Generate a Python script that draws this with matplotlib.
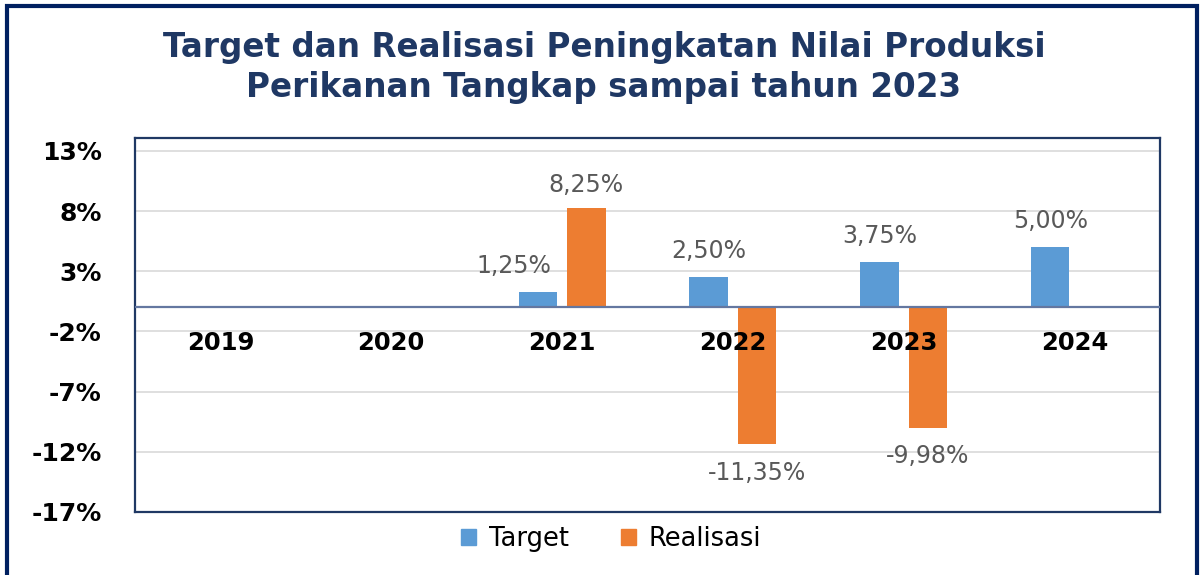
import matplotlib
matplotlib.use("Agg")
import matplotlib.pyplot as plt
from matplotlib.patches import Rectangle
import numpy as np

plt.rcParams['font.family'] = ['DejaVu Sans']

# data
years = ["2019", "2020", "2021", "2022", "2023", "2024"]
target = [None, None, 1.25, 2.50, 3.75, 5.00]
realisasi = [None, None, 8.25, -11.35, -9.98, None]
yticks = [13, 8, 3, -2, -7, -12, -17]

blue = "#5b9bd5"
orange = "#ed7d31"
navy = "#1f3864"

fig = plt.figure(figsize=(12.03, 5.75), dpi=100)
ax = fig.add_axes([0.1122, 0.1096, 0.852, 0.6504])

x = np.arange(len(years))
w = 0.225
off = 0.142

def fmt(v):
    return f"{v:.2f}".replace(".", ",") + "%"

for i, v in enumerate(target):
    if v is None:
        continue
    ax.bar(x[i] - off, v, w, color=blue, zorder=3)
    dx = -0.14 if i == 2 else 0.0   # 1,25% label sits left in the original
    ax.annotate(fmt(v), (x[i] - off + dx, v), xytext=(0, 10), textcoords="offset points",
                ha="center", va="bottom", fontsize=17, color="#595959")

for i, v in enumerate(realisasi):
    if v is None:
        continue
    ax.bar(x[i] + off, v, w, color=orange, zorder=3)
    if v >= 0:
        ax.annotate(fmt(v), (x[i] + off, v), xytext=(0, 8), textcoords="offset points",
                    ha="center", va="bottom", fontsize=17, color="#595959")
    else:
        ax.annotate(fmt(v), (x[i] + off, v), xytext=(0, -12), textcoords="offset points",
                    ha="center", va="top", fontsize=17, color="#595959")

# year labels just below zero line
for i, yr in enumerate(years):
    ax.text(x[i], -2.0, yr, ha="center", va="top", fontsize=17.5, fontweight="bold", color="black")

ax.axhline(0, color="#6477a0", lw=1.6, zorder=4)
ax.set_xlim(-0.5, len(years) - 0.5)
ax.set_ylim(-17, 14.08)
ax.set_yticks(yticks)
ax.set_yticklabels([f"{t}%" for t in yticks], fontsize=18, fontweight="bold")
ax.set_xticks([])
ax.tick_params(axis="y", length=0, pad=24)
ax.grid(axis="y", color="#d9d9d9", lw=1.2, zorder=0)
for s in ax.spines.values():
    s.set_color(navy)
    s.set_linewidth(1.6)

fig.text(0.502, 0.918, "Target dan Realisasi Peningkatan Nilai Produksi",
         ha="center", va="center", fontsize=23.5, fontweight="bold", color=navy)
fig.text(0.502, 0.847, "Perikanan Tangkap sampai tahun 2023",
         ha="center", va="center", fontsize=23.5, fontweight="bold", color=navy)

handles = [Rectangle((0, 0), 1, 1, color=blue), Rectangle((0, 0), 1, 1, color=orange)]
fig.legend(handles, ["Target", "Realisasi"], loc="center", bbox_to_anchor=(0.508, 0.062),
           ncol=2, frameon=False, fontsize=18.5, handlelength=0.6, handleheight=0.6,
           columnspacing=2.0, handletextpad=0.5)

# outer frame
fig.patches.append(Rectangle((0.0062, -0.01), 0.9885, 1.0, transform=fig.transFigure,
                             fill=False, edgecolor="#002060", lw=3))

fig.savefig("out.png", dpi=100)
